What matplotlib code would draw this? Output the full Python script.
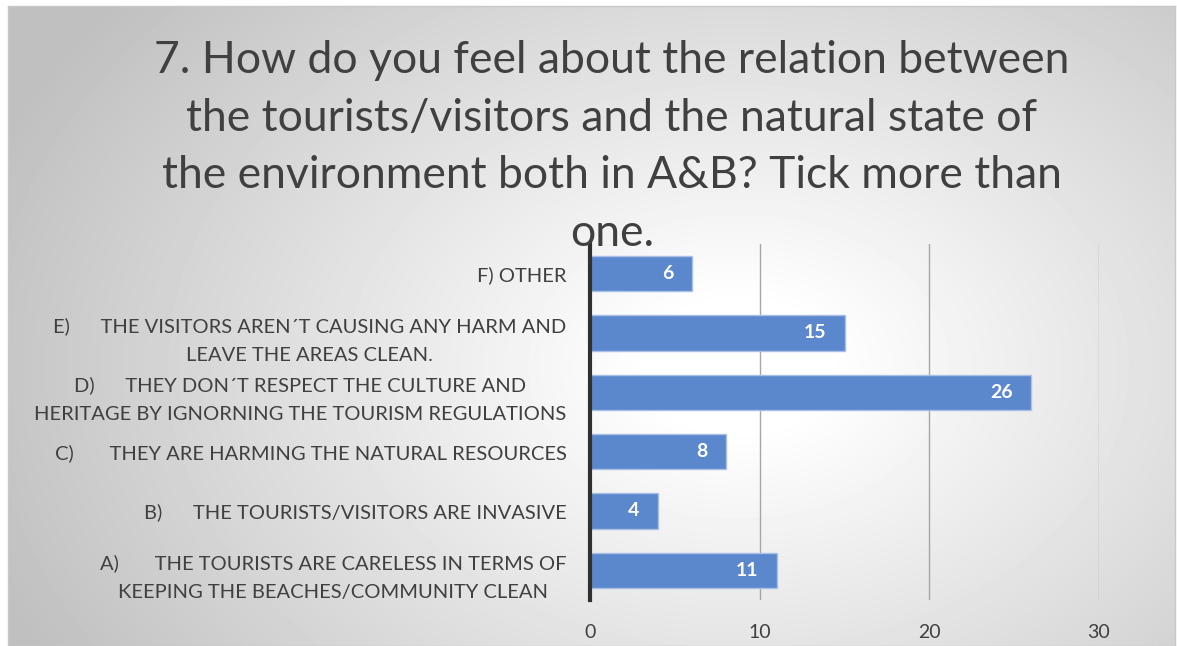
import matplotlib.pyplot as plt
import numpy as np

# survey answers, bottom to top as drawn
labels = [
    "A)       THE TOURISTS ARE CARELESS IN TERMS OF\nKEEPING THE BEACHES/COMMUNITY CLEAN",
    "B)      THE TOURISTS/VISITORS ARE INVASIVE",
    "C)       THEY ARE HARMING THE NATURAL RESOURCES",
    "D)      THEY DON\u00b4T RESPECT THE CULTURE AND\nHERITAGE BY IGNORNING THE TOURISM REGULATIONS",
    "E)      THE VISITORS AREN\u00b4T CAUSING ANY HARM AND\nLEAVE THE AREAS CLEAN.",
    "F) OTHER",
]
counts = [11, 4, 8, 26, 15, 6]
xticks = [0, 10, 20, 30]

title = ("7. How do you feel about the relation between\n"
         "the tourists/visitors and the natural state of\n"
         "the environment both in A&B? Tick more than\n"
         "one.")

plt.rcParams['font.family'] = ['Lato', 'DejaVu Sans']
txt = '#404040'

fig = plt.figure(figsize=(11.77, 6.46), dpi=100)

# radial grey background of the chart box
bg = fig.add_axes([8 / 1177, 0, 1167 / 1177, 640 / 646], zorder=-10)
W, H = 1167, 640
yy, xx = np.mgrid[0:H, 0:W]
d = np.sqrt(((xx - 730) / 720.0) ** 2 + ((yy - 360) / 520.0) ** 2)
shade = 1 - 0.25 * np.clip((d - 0.12) / 1.0, 0, 1)
bg.imshow(shade, cmap='gray', vmin=0, vmax=1, aspect='auto', interpolation='bilinear')
bg.set_xticks([])
bg.set_yticks([])
for s in bg.spines.values():
    s.set_color('#c8c8c8')
    s.set_linewidth(1)

ax = fig.add_axes([590 / 1177, 46 / 646, 509 / 1177, 356 / 646])
ax.set_facecolor('none')
y = np.arange(len(labels))
ax.barh(y, counts, height=0.59, color='#5b87cc', edgecolor='#a9c0e6', linewidth=1, zorder=3)
for yi, c in zip(y, counts):
    ax.text(c - 1.1, yi, str(c), ha='right', va='center', color='white',
            fontsize=14, fontweight='bold', zorder=4)

ax.set_xlim(0, 30)
ax.set_ylim(-0.5, len(labels) - 0.5)
ax.set_xticks(xticks)
ax.set_xticklabels([str(t) for t in xticks], fontsize=14, color=txt)
ax.set_yticks(y)
ax.set_yticklabels(labels, fontsize=14.5, color=txt, multialignment='center', linespacing=1.85)
ax.tick_params(axis='both', length=0)
ax.tick_params(axis='x', pad=17)
ax.tick_params(axis='y', pad=17)
ax.grid(axis='x', color='#a6a6a6', linewidth=1, zorder=1)
for s in ['top', 'right', 'bottom']:
    ax.spines[s].set_visible(False)
ax.spines['left'].set_color('#303030')
ax.spines['left'].set_linewidth(3)
ax.spines['left'].set_zorder(5)

fig.text(612 / 1177, 1 - 147 / 646, title, ha='center', va='center', fontsize=32,
         color=txt, linespacing=1.5)

fig.savefig('out.png', dpi=100)
